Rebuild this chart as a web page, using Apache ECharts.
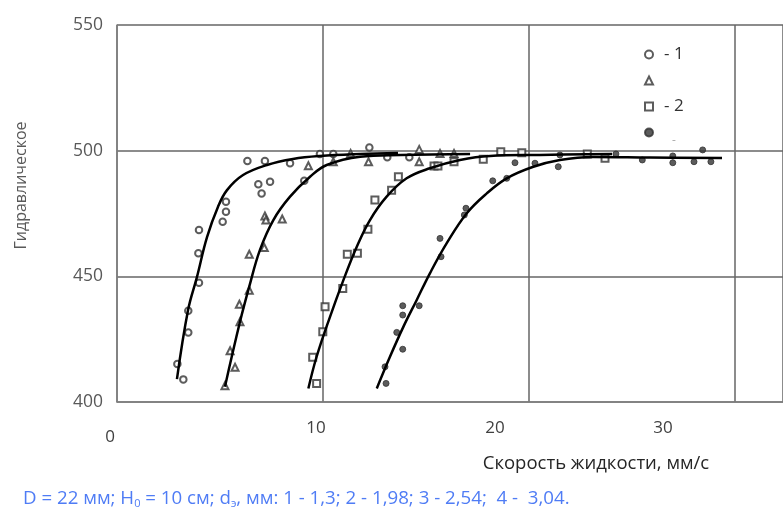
<!DOCTYPE html>
<html lang="ru">
<head>
<meta charset="UTF-8">
<title>Гидравлическое</title>
<script src="https://cdn.jsdelivr.net/npm/echarts@6.0.0/dist/echarts.min.js"></script>
<style>
  html, body { margin: 0; padding: 0; background: #fff; }
  #main { width: 783px; height: 507px; }
</style>
</head>
<body>
<div id="main"></div>
<script>
// measured points, [speed mm/s, value]
var circles = [
  [2.93, 415.1], [3.22, 409.0], [3.46, 427.7], [3.46, 436.3], [3.98, 447.4],
  [3.95, 459.2], [3.98, 468.4], [5.13, 471.7], [5.29, 475.7], [5.29, 479.7],
  [6.33, 495.9], [7.18, 495.9], [6.86, 486.6], [7.43, 487.6], [7.02, 483.0],
  [8.40, 495.0], [9.09, 488.0], [9.85, 498.7], [10.50, 498.7], [12.25, 501.3],
  [13.12, 497.4], [14.19, 497.4]
];
var triangles = [
  [5.24, 406.5], [5.73, 413.8], [5.49, 420.4], [5.97, 431.9], [5.94, 438.9],
  [6.42, 444.5], [6.42, 458.8], [7.15, 461.5], [7.18, 474.0], [7.23, 472.4],
  [8.02, 472.8], [9.29, 494.0], [10.50, 495.6], [11.34, 498.9], [12.21, 495.6],
  [14.67, 500.5], [14.67, 495.6], [15.68, 498.9], [16.36, 498.9]
];
var squares = [
  [9.69, 407.4], [9.50, 417.8], [9.99, 428.0], [10.10, 437.9], [10.96, 445.2],
  [11.18, 458.8], [11.67, 459.2], [12.18, 468.7], [12.52, 480.4], [13.33, 484.3],
  [13.66, 489.6], [15.39, 493.9], [15.58, 493.9], [16.36, 495.6], [17.78, 496.6],
  [18.63, 499.6], [19.65, 499.2], [22.83, 498.7], [23.69, 497.0]
];
var dots = [
  [13.06, 407.4], [13.01, 414.0], [13.87, 421.0], [13.58, 427.7], [13.87, 434.6],
  [13.87, 438.3], [14.67, 438.3], [15.73, 457.8], [15.68, 465.1], [16.86, 474.4],
  [16.94, 477.1], [18.24, 488.0], [18.92, 489.0], [19.32, 495.2], [20.29, 495.0],
  [21.42, 493.6], [21.50, 498.3], [24.22, 498.7], [25.50, 496.3], [26.98, 497.9],
  [26.98, 495.2], [28.01, 495.6], [28.43, 500.3], [28.83, 495.6]
];

// fitted curves
var curve1 = [
  [2.91, 409.1], [3.45, 436.6], [3.88, 449.7], [4.37, 465.6], [4.90, 477.6],
  [5.34, 484.3], [6.12, 490.3], [7.28, 494.3], [8.54, 496.7], [9.85, 497.9],
  [11.80, 498.7], [13.64, 499.1]
];
var curve2 = [
  [5.24, 406.1], [5.97, 431.9], [6.42, 445.9], [6.94, 460.5], [7.59, 472.4],
  [8.40, 481.7], [9.37, 489.6], [10.18, 494.3], [11.80, 497.6], [13.74, 498.3],
  [17.14, 498.7]
];
var curve3 = [
  [9.29, 405.4], [9.69, 418.0], [10.34, 433.9], [10.99, 448.5], [11.64, 461.8],
  [12.28, 472.4], [13.09, 481.7], [14.06, 489.0], [15.19, 493.0], [16.65, 496.3],
  [18.11, 497.9], [20.53, 498.3], [24.03, 498.7]
];
var curve4 = [
  [12.61, 405.4], [13.25, 418.0], [13.90, 429.9], [14.55, 440.6], [15.19, 451.2],
  [16.00, 463.1], [16.98, 475.1], [17.95, 483.0], [18.92, 489.0], [20.21, 493.6],
  [21.50, 496.3], [23.11, 497.5], [25.87, 497.3], [29.37, 497.1]
];

var seriesNames = ['1', '2', '3', '4'];
var legendText = ['- 1', ' ', '- 2', '{m|-}'];
var xTickLabels = ['0', '10', '20', '30'];
var xTickX = [110, 316, 495, 663];
var xTickY = [437, 428, 428, 428];

var font = '"Open Sans", "Noto Sans", sans-serif';
var gridColor = '#666';
var markColor = '#333';

var chart = echarts.init(document.getElementById('main'));

function scatter(name, data, symbol, size) {
  return {
    name: name,
    type: 'scatter',
    data: data,
    symbol: symbol,
    symbolSize: size,
    z: 3,
    itemStyle: { color: markColor, borderColor: markColor, borderWidth: 1 }
  };
}
function curve(data) {
  return {
    type: 'line',
    data: data,
    smooth: 0.4,
    showSymbol: false,
    silent: true,
    z: 4,
    lineStyle: { color: '#000', width: 2.5 }
  };
}

var graphics = xTickLabels.map(function (t, i) {
  return {
    type: 'text',
    x: xTickX[i],
    y: xTickY[i],
    style: {
      text: t, fill: '#404040', font: '17px ' + font,
      textAlign: 'center', textVerticalAlign: 'middle'
    }
  };
});

chart.setOption({
  animation: false,
  backgroundColor: '#fff',
  textStyle: { fontFamily: font },
  grid: { left: 117, right: 0, top: 25, bottom: 105 },
  title: {
    left: 18,
    top: 484,
    text: 'D = 22 мм; H{sub|0} = 10 см; d{sub|э}, мм: 1 - 1,3; 2 - 1,98; 3 - 2,54;  4 -  3,04.',
    textStyle: {
      fontSize: 18.7, fontWeight: 'normal', color: '#4f7cf5', fontFamily: font,
      rich: { sub: { fontSize: 11, color: '#4f7cf5', padding: [9, 0, 0, 0] } }
    }
  },
  legend: {
    orient: 'vertical',
    left: 639,
    top: 41,
    itemWidth: 8,
    itemHeight: 8,
    itemGap: 9,
    data: seriesNames,
    formatter: function (name) { return legendText[seriesNames.indexOf(name)]; },
    textStyle: {
      fontSize: 17, lineHeight: 17, color: '#333', padding: [0, 0, 0, 6],
      rich: { m: { fontSize: 12, color: '#aaa', padding: [16, 0, 0, 8] } }
    }
  },
  xAxis: {
    type: 'value',
    min: 0,
    max: 32.33,
    interval: 10,
    name: 'Скорость жидкости, мм/с',
    nameLocation: 'middle',
    nameGap: 52,
    nameTextStyle: { fontSize: 18.5, color: '#262626', padding: [0, 0, 0, 292] },
    axisLine: { show: true, lineStyle: { color: '#808080', width: 1.5 } },
    axisTick: { show: false },
    axisLabel: { show: false },
    splitLine: { show: true, lineStyle: { color: gridColor, width: 1.5 } }
  },
  yAxis: {
    type: 'value',
    min: 400,
    max: 550,
    interval: 50,
    name: 'Гидравлическое',
    nameLocation: 'middle',
    nameRotate: 90,
    nameGap: 88,
    nameTextStyle: { fontSize: 16, color: '#595959', padding: [0, 0, 0, 56] },
    axisLine: { show: true, lineStyle: { color: '#808080', width: 1.5 } },
    axisTick: { show: false },
    axisLabel: { fontSize: 17.5, color: '#595959', margin: 14 },
    splitLine: { show: true, lineStyle: { color: gridColor, width: 1.5 } }
  },
  graphic: graphics,
  series: [
    scatter(seriesNames[0], circles, 'emptyCircle', 6.5),
    scatter(seriesNames[1], triangles, 'emptyTriangle', 7),
    scatter(seriesNames[2], squares, 'emptyRect', 7),
    scatter(seriesNames[3], dots, 'circle', 6),
    curve(curve1),
    curve(curve2),
    curve(curve3),
    curve(curve4)
  ]
});
</script>
</body>
</html>
